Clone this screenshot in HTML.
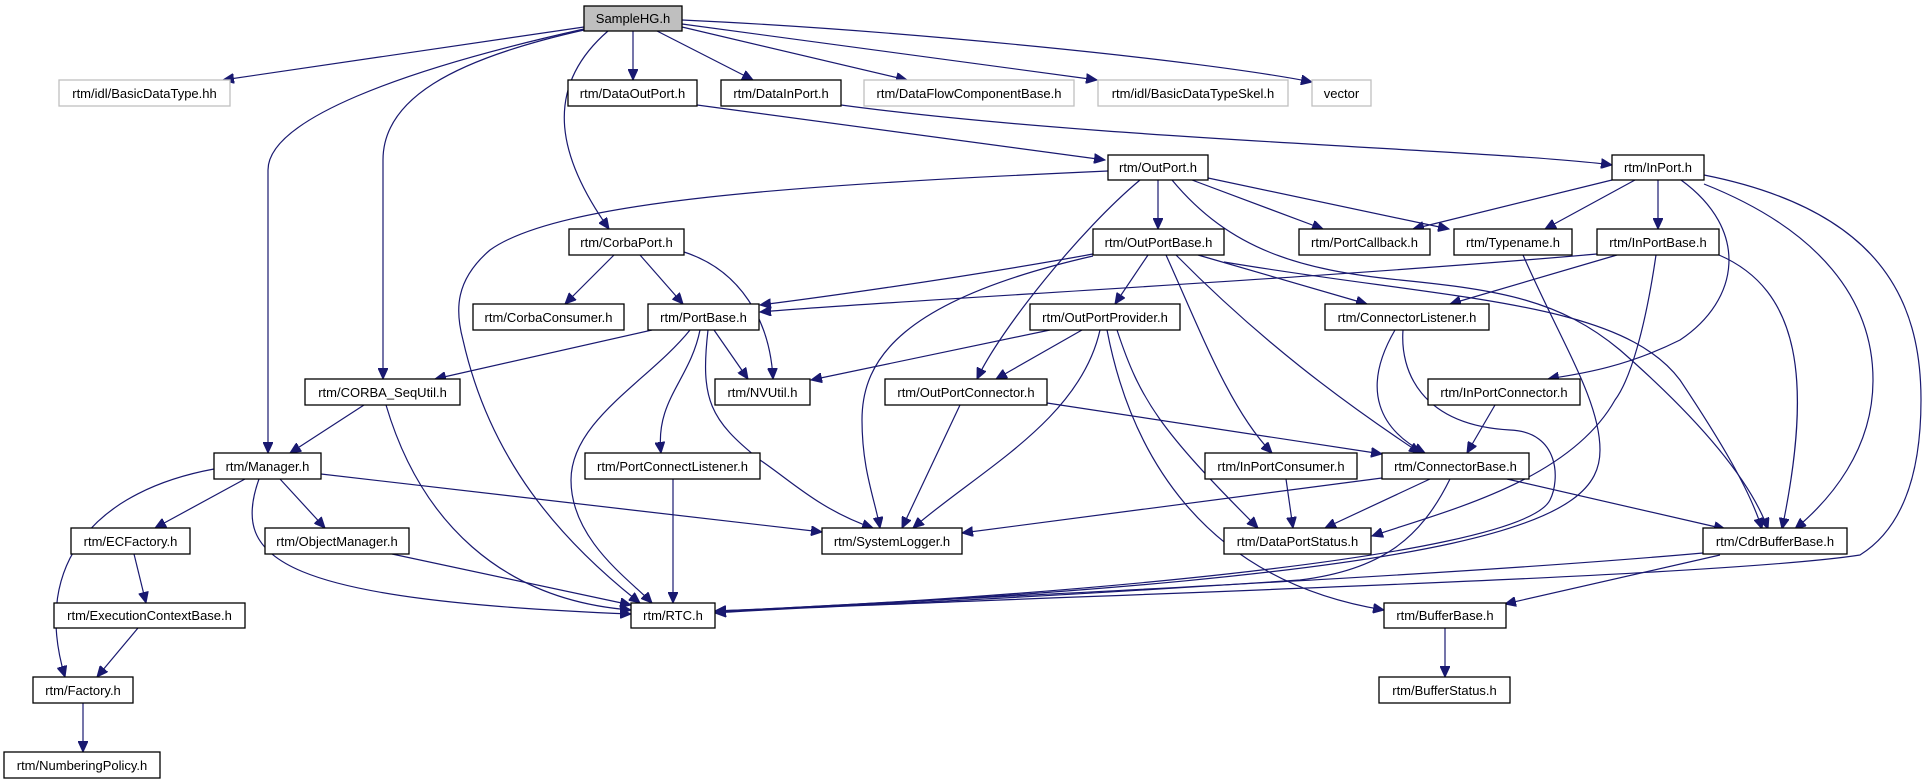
<!DOCTYPE html>
<html><head><meta charset="utf-8"><style>
html,body{margin:0;padding:0;background:#fff;}
svg{display:block;}
text{font-family:"Liberation Sans",Arial,sans-serif;font-size:13px;fill:#000;text-anchor:middle;}
.n{fill:#fff;stroke:#000;stroke-width:1.3;}
.g{fill:#fff;stroke:#bfbfbf;stroke-width:1.3;}
.e{fill:none;stroke:#191970;stroke-width:1.2;marker-end:url(#a);}
</style></head><body>
<svg width="1925" height="784" viewBox="0 0 1925 784" xmlns="http://www.w3.org/2000/svg">
<defs><marker id="a" markerUnits="userSpaceOnUse" markerWidth="12" markerHeight="10" refX="11" refY="5" orient="auto"><path d="M0,0 L11,5 L0,10 z" fill="#191970" stroke="#191970"/></marker></defs>
<g>
<path class="e" d="M584,27 L223,80"/>
<path class="e" d="M584,29 C400,70 268,120 268,170 L268,453"/>
<path class="e" d="M584,30 C450,60 383,100 383,160 L383,379"/>
<path class="e" d="M608,31 C540,90 560,160 609,229"/>
<path class="e" d="M633,31 L633,80"/>
<path class="e" d="M657,31 L753,80"/>
<path class="e" d="M682,27 L907,80"/>
<path class="e" d="M682,24 L1097,80"/>
<path class="e" d="M682,20 C900,30 1200,60 1312,82"/>
<path class="e" d="M697,105 L1105,160"/>
<path class="e" d="M841,105 C1100,140 1500,150 1612,165"/>
<path class="e" d="M1108,171 C800,185 560,200 490,250 C455,280 455,310 463,340 C490,460 560,540 640,603"/>
<path class="e" d="M1140,180 C1080,230 1000,330 977,379"/>
<path class="e" d="M1158,180 L1158,229"/>
<path class="e" d="M1192,180 L1323,229"/>
<path class="e" d="M1208,178 L1449,229"/>
<path class="e" d="M1172,180 C1230,250 1300,270 1400,280 C1500,290 1560,300 1620,350 C1700,420 1750,480 1768,529"/>
<path class="e" d="M1093,254 C950,280 800,300 760,305"/>
<path class="e" d="M1093,256 C900,300 862,360 862,420 C862,470 875,500 880,528"/>
<path class="e" d="M1148,255 L1115,304"/>
<path class="e" d="M1166,255 C1200,330 1230,410 1272,453"/>
<path class="e" d="M1176,255 C1260,340 1340,400 1420,453"/>
<path class="e" d="M1198,255 L1367,304"/>
<path class="e" d="M1224,262 C1450,300 1620,300 1680,380 C1720,440 1750,490 1762,529"/>
<path class="e" d="M652,330 L435,379"/>
<path class="e" d="M714,330 L748,379"/>
<path class="e" d="M700,330 C690,380 655,400 661,453"/>
<path class="e" d="M690,330 C650,380 571,420 571,480 C571,540 630,580 652,603"/>
<path class="e" d="M708,330 C700,400 710,420 760,460 C790,480 820,510 873,528"/>
<path class="e" d="M614,255 L565,304"/>
<path class="e" d="M640,255 L683,304"/>
<path class="e" d="M684,252 C740,270 770,320 773,379"/>
<path class="e" d="M364,405 L290,453"/>
<path class="e" d="M386,405 C420,520 500,600 631,610"/>
<path class="e" d="M214,469 C100,490 30,560 65,677"/>
<path class="e" d="M245,479 L155,528"/>
<path class="e" d="M259,479 C230,560 280,600 631,614"/>
<path class="e" d="M280,479 L325,528"/>
<path class="e" d="M321,474 L822,532"/>
<path class="e" d="M134,554 L146,603"/>
<path class="e" d="M138,628 L97,677"/>
<path class="e" d="M392,554 L631,605"/>
<path class="e" d="M83,703 L83,752"/>
<path class="e" d="M673,479 L673,603"/>
<path class="e" d="M1050,330 L811,380"/>
<path class="e" d="M1082,330 L996,379"/>
<path class="e" d="M1100,330 C1080,420 980,470 913,528"/>
<path class="e" d="M1117,330 C1140,400 1160,430 1258,528"/>
<path class="e" d="M1107,330 C1130,450 1200,580 1384,610"/>
<path class="e" d="M960,405 L902,528"/>
<path class="e" d="M1047,403 L1382,454"/>
<path class="e" d="M1612,180 L1413,229"/>
<path class="e" d="M1635,180 L1545,229"/>
<path class="e" d="M1658,180 L1658,229"/>
<path class="e" d="M1681,180 C1750,230 1740,300 1680,340 C1620,370 1570,375 1548,379"/>
<path class="e" d="M1704,184 C1820,230 1873,300 1873,380 C1873,450 1830,500 1795,529"/>
<path class="e" d="M1704,175 C1880,210 1921,300 1921,400 C1921,480 1900,530 1860,555 C1700,580 900,600 715,613"/>
<path class="e" d="M1597,254 C1300,280 900,300 760,312"/>
<path class="e" d="M1617,255 L1450,304"/>
<path class="e" d="M1656,255 C1645,330 1630,380 1615,400 C1570,480 1450,510 1372,536"/>
<path class="e" d="M1719,255 C1800,290 1813,380 1782,529"/>
<path class="e" d="M1523,255 C1560,340 1600,400 1600,450 C1600,520 1500,575 715,612"/>
<path class="e" d="M1382,478 L962,533"/>
<path class="e" d="M1430,479 L1325,528"/>
<path class="e" d="M1450,479 C1420,540 1380,570 1300,580 C1000,600 800,608 715,611"/>
<path class="e" d="M1507,479 L1725,529"/>
<path class="e" d="M1495,405 L1467,453"/>
<path class="e" d="M1395,330 C1360,390 1380,430 1425,453"/>
<path class="e" d="M1403,330 C1400,370 1420,425 1510,430 C1560,432 1560,480 1550,500 C1520,560 1000,600 715,611"/>
<path class="e" d="M1286,479 L1293,528"/>
<path class="e" d="M1703,553 C1400,580 900,600 715,612"/>
<path class="e" d="M1720,555 L1505,604"/>
<path class="e" d="M1445,628 L1445,677"/>
</g>
<g>
<rect x="584" y="6" width="98" height="25" fill="#bfbfbf" stroke="#000" stroke-width="1.3"/><text x="633" y="23">SampleHG.h</text>
<rect class="g" x="59" y="80" width="171" height="26"/><text x="144.5" y="98">rtm/idl/BasicDataType.hh</text>
<rect class="n" x="568" y="80" width="129" height="26"/><text x="632.5" y="98">rtm/DataOutPort.h</text>
<rect class="n" x="721" y="80" width="120" height="26"/><text x="781" y="98">rtm/DataInPort.h</text>
<rect class="g" x="864" y="80" width="210" height="26"/><text x="969" y="98">rtm/DataFlowComponentBase.h</text>
<rect class="g" x="1098" y="80" width="190" height="26"/><text x="1193" y="98">rtm/idl/BasicDataTypeSkel.h</text>
<rect class="g" x="1312" y="80" width="59" height="26"/><text x="1341.5" y="98">vector</text>
<rect class="n" x="1108" y="155" width="100" height="25"/><text x="1158" y="172">rtm/OutPort.h</text>
<rect class="n" x="1612" y="155" width="92" height="25"/><text x="1658" y="172">rtm/InPort.h</text>
<rect class="n" x="569" y="229" width="115" height="26"/><text x="626.5" y="247">rtm/CorbaPort.h</text>
<rect class="n" x="1093" y="229" width="131" height="26"/><text x="1158.5" y="247">rtm/OutPortBase.h</text>
<rect class="n" x="1299" y="229" width="131" height="26"/><text x="1364.5" y="247">rtm/PortCallback.h</text>
<rect class="n" x="1454" y="229" width="118" height="26"/><text x="1513" y="247">rtm/Typename.h</text>
<rect class="n" x="1597" y="229" width="122" height="26"/><text x="1658" y="247">rtm/InPortBase.h</text>
<rect class="n" x="473" y="304" width="151" height="26"/><text x="548.5" y="322">rtm/CorbaConsumer.h</text>
<rect class="n" x="648" y="304" width="111" height="26"/><text x="703.5" y="322">rtm/PortBase.h</text>
<rect class="n" x="1030" y="304" width="150" height="26"/><text x="1105" y="322">rtm/OutPortProvider.h</text>
<rect class="n" x="1325" y="304" width="164" height="26"/><text x="1407" y="322">rtm/ConnectorListener.h</text>
<rect class="n" x="305" y="379" width="155" height="26"/><text x="382.5" y="397">rtm/CORBA_SeqUtil.h</text>
<rect class="n" x="715" y="379" width="95" height="26"/><text x="762.5" y="397">rtm/NVUtil.h</text>
<rect class="n" x="885" y="379" width="162" height="26"/><text x="966" y="397">rtm/OutPortConnector.h</text>
<rect class="n" x="1428" y="379" width="152" height="26"/><text x="1504" y="397">rtm/InPortConnector.h</text>
<rect class="n" x="214" y="453" width="107" height="26"/><text x="267.5" y="471">rtm/Manager.h</text>
<rect class="n" x="585" y="453" width="175" height="26"/><text x="672.5" y="471">rtm/PortConnectListener.h</text>
<rect class="n" x="1205" y="453" width="152" height="26"/><text x="1281" y="471">rtm/InPortConsumer.h</text>
<rect class="n" x="1382" y="453" width="147" height="26"/><text x="1455.5" y="471">rtm/ConnectorBase.h</text>
<rect class="n" x="71" y="528" width="119" height="26"/><text x="130.5" y="546">rtm/ECFactory.h</text>
<rect class="n" x="265" y="528" width="144" height="26"/><text x="337" y="546">rtm/ObjectManager.h</text>
<rect class="n" x="822" y="528" width="140" height="26"/><text x="892" y="546">rtm/SystemLogger.h</text>
<rect class="n" x="1224" y="528" width="147" height="26"/><text x="1297.5" y="546">rtm/DataPortStatus.h</text>
<rect class="n" x="1703" y="528" width="144" height="26"/><text x="1775" y="546">rtm/CdrBufferBase.h</text>
<rect class="n" x="54" y="603" width="191" height="25"/><text x="149.5" y="620">rtm/ExecutionContextBase.h</text>
<rect class="n" x="631" y="603" width="84" height="25"/><text x="673" y="620">rtm/RTC.h</text>
<rect class="n" x="1384" y="603" width="122" height="25"/><text x="1445" y="620">rtm/BufferBase.h</text>
<rect class="n" x="33" y="677" width="100" height="26"/><text x="83" y="695">rtm/Factory.h</text>
<rect class="n" x="1379" y="677" width="131" height="26"/><text x="1444.5" y="695">rtm/BufferStatus.h</text>
<rect class="n" x="4" y="752" width="156" height="26"/><text x="82" y="770">rtm/NumberingPolicy.h</text>
</g>
</svg>
</body></html>
